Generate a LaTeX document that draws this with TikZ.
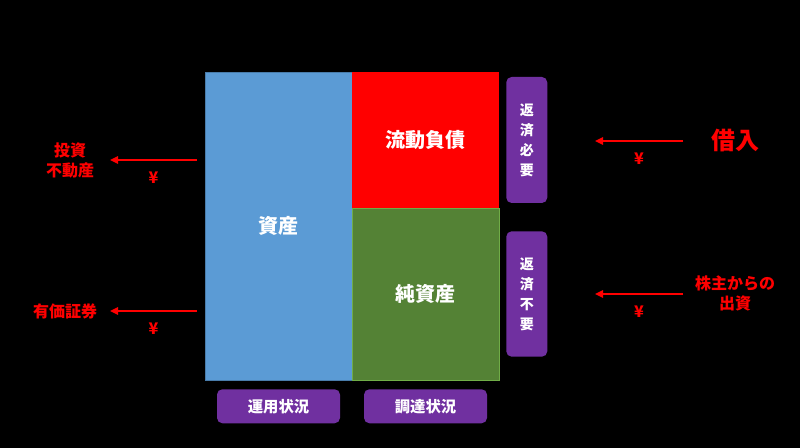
\documentclass[tikz,border=0pt]{standalone}
\usepackage{fontspec}
\setmainfont{Noto Sans CJK JP}
\usetikzlibrary{arrows.meta, positioning}
\definecolor{assetblue}{HTML}{5B9BD5}
\definecolor{debtred}{HTML}{FF0000}
\definecolor{equitygreen}{HTML}{548235}
\definecolor{equityedge}{HTML}{70AD47}
\definecolor{tagpurple}{HTML}{7030A0}
\definecolor{flowred}{HTML}{FF0000}

\begin{document}
\begin{tikzpicture}[
  x=0.75pt, y=-0.75pt,
  block/.style={rectangle, minimum width=110.25pt, inner sep=0pt, outer sep=0pt,
                text=white, font=\fontsize{15}{18}\selectfont\bfseries, anchor=north west},
  tag/.style={rectangle, rounded corners=4pt, fill=tagpurple, text=white,
              inner sep=0pt, align=center, font=\fontsize{10.5}{15}\selectfont\bfseries},
  flow/.style={text=flowred, align=center, font=\fontsize{12}{15}\selectfont\bfseries},
  yen/.style={text=flowred, font=\fontsize{12}{14}\selectfont\bfseries},
  arr/.style={-{Triangle[length=6pt, width=5.5pt]}, line width=1.5pt, flowred}]
  \fill[black] (0,0) rectangle (800,448);
  \useasboundingbox (0,0) rectangle (800,448);

  % balance sheet
  \node[block, fill=assetblue, draw=assetblue!80!black, minimum height=231pt] (shisan) at (205,72) {資産};
  \node[block, fill=debtred, minimum height=102pt] (fusai) at (shisan.north east) {流動負債};
  \node[block, fill=equitygreen, draw=equityedge, minimum height=129pt] (junshisan) at (fusai.south west) {純資産};

  % tags
  \node[tag, right=5.25pt of fusai, minimum width=30.75pt, minimum height=94.5pt] (hitsuyo) {返\\済\\必\\要};
  \node[tag, right=5.25pt of junshisan, minimum width=30.75pt, minimum height=94pt] (fuyo) {返\\済\\不\\要};
  \node[tag, below=6.75pt of shisan, minimum width=92.25pt, minimum height=25.5pt,
        font=\fontsize{11.5}{14}\selectfont\bfseries] (unyo) {運用状況};
  \node[tag, below=6.75pt of junshisan, minimum width=92.25pt, minimum height=25.5pt,
        font=\fontsize{11.5}{14}\selectfont\bfseries] (chotatsu) {調達状況};

  % outflows
  \node[flow] (toushi) at (70,160) {投資\\不動産};
  \node[flow] (yuka) at (65,311) {有価証券};
  \coordinate (outA) at (197,160);
  \coordinate (outB) at (197,311);
  \draw[arr] (outA) -- node[yen, below=5pt] {¥} (outA -| 110,0);
  \draw[arr] (outB) -- node[yen, below=5pt] {¥} (outB -| 110,0);

  % inflows
  \node[flow, font=\fontsize{18}{22}\selectfont\bfseries] (karire) at (735,140) {借入};
  \node[flow] (shusshi) at (735,293) {株主からの\\出資};
  \coordinate (inA) at (683,141);
  \coordinate (inB) at (683,294);
  \draw[arr] (inA) -- node[yen, below=5pt] {¥} (inA -| 595,0);
  \draw[arr] (inB) -- node[yen, below=5pt] {¥} (inB -| 595,0);
\end{tikzpicture}
\end{document}
